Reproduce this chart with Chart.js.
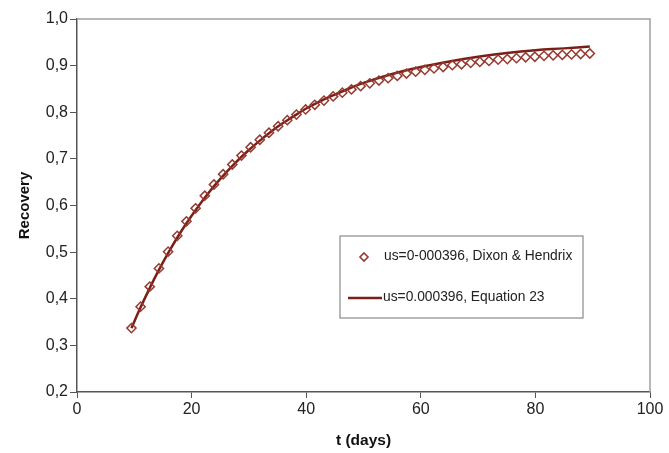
<!DOCTYPE html>
<html>
<head>
<meta charset="utf-8">
<script src="https://cdn.jsdelivr.net/npm/chart.js@4/dist/chart.umd.min.js"></script>
<style>
html,body{margin:0;padding:0;background:#fff;}
#wrap{width:669px;height:453px;}
</style>
</head>
<body>
<div id="wrap"><canvas id="c" width="669" height="453"></canvas></div>
<script>
// Dixon & Hendrix points (t in days, recovery)
const dixonT = [9.5, 11.1, 12.7, 14.3, 15.9, 17.5, 19.1, 20.7, 22.3, 23.9, 25.5, 27.1, 28.7, 30.3, 31.9, 33.5, 35.1, 36.7, 38.3, 39.9, 41.5, 43.1, 44.7, 46.3, 47.9, 49.5, 51.1, 52.7, 54.3, 55.9, 57.5, 59.1, 60.7, 62.3, 63.9, 65.5, 67.1, 68.7, 70.3, 71.9, 73.5, 75.1, 76.7, 78.3, 79.9, 81.5, 83.1, 84.7, 86.3, 87.9, 89.5];
const dixonR = [0.337, 0.383, 0.426, 0.465, 0.501, 0.535, 0.566, 0.594, 0.621, 0.645, 0.667, 0.688, 0.707, 0.725, 0.741, 0.756, 0.770, 0.783, 0.795, 0.806, 0.816, 0.825, 0.834, 0.842, 0.849, 0.856, 0.862, 0.868, 0.873, 0.878, 0.883, 0.887, 0.891, 0.894, 0.897, 0.901, 0.903, 0.906, 0.908, 0.910, 0.913, 0.914, 0.916, 0.918, 0.919, 0.921, 0.922, 0.923, 0.924, 0.925, 0.926];
// Equation 23 curve
const eqT = [9.5, 11, 12.5, 14, 16, 18, 20, 22.5, 25, 27.5, 30, 32.5, 35, 37.5, 40, 42.5, 45, 47.5, 50, 55, 60, 65, 70, 75, 80, 85, 89.5];
const eqR = [0.337, 0.379, 0.418, 0.455, 0.500, 0.541, 0.578, 0.620, 0.657, 0.690, 0.719, 0.745, 0.769, 0.789, 0.808, 0.824, 0.838, 0.851, 0.863, 0.882, 0.897, 0.909, 0.919, 0.927, 0.933, 0.937, 0.941];
const xTicks = [0, 20, 40, 60, 80, 100];
const yTicks = [0.2, 0.3, 0.4, 0.5, 0.6, 0.7, 0.8, 0.9, 1.0];
const seriesNames = ['us=0-000396, Dixon & Hendrix', 'us=0.000396, Equation 23'];

const lineColor = '#7a1f17';
const markerColor = '#963a30';
const FONT = '"Liberation Sans", Arial, sans-serif';

const frame = {
  id: 'frame',
  beforeDatasetsDraw(chart) {
    const {ctx, chartArea: a} = chart;
    ctx.save();
    ctx.strokeStyle = '#a0a0a0';
    ctx.lineWidth = 1.5;
    ctx.beginPath();
    ctx.moveTo(a.left, a.top); ctx.lineTo(a.right, a.top); ctx.lineTo(a.right, a.bottom);
    ctx.stroke();
    ctx.restore();
  },
  afterDraw(chart) {
    const {ctx} = chart;
    ctx.save();
    // legend box
    const bx = 340, by = 236, bw = 243, bh = 82;
    ctx.fillStyle = '#fff';
    ctx.fillRect(bx, by, bw, bh);
    ctx.strokeStyle = '#8a8a8a';
    ctx.lineWidth = 1.2;
    ctx.strokeRect(bx, by, bw, bh);
    // diamond
    const dx = 364, dy = 257, r = 4;
    ctx.strokeStyle = markerColor;
    ctx.lineWidth = 1.6;
    ctx.beginPath();
    ctx.moveTo(dx, dy - r); ctx.lineTo(dx + r, dy); ctx.lineTo(dx, dy + r); ctx.lineTo(dx - r, dy); ctx.closePath();
    ctx.stroke();
    // line
    ctx.strokeStyle = lineColor;
    ctx.lineWidth = 2.5;
    ctx.beginPath(); ctx.moveTo(348, 298); ctx.lineTo(382, 298); ctx.stroke();
    ctx.fillStyle = '#222';
    ctx.font = '13.8px ' + FONT;
    ctx.textBaseline = 'middle';
    ctx.textAlign = 'left';
    ctx.fillText(seriesNames[0], 384, 256);
    ctx.fillText(seriesNames[1], 383, 297);
    ctx.restore();
  }
};

new Chart(document.getElementById('c'), {
  type: 'scatter',
  data: {
    datasets: [
      {
        label: seriesNames[1],
        type: 'line',
        data: eqT.map((t, i) => ({x: t, y: eqR[i]})),
        borderColor: lineColor,
        borderWidth: 2.5,
        pointRadius: 0,
        tension: 0.4,
        fill: false,
        order: 2
      },
      {
        label: seriesNames[0],
        data: dixonT.map((t, i) => ({x: t, y: dixonR[i]})),
        pointStyle: 'rectRot',
        pointRadius: 4.6,
        pointBorderWidth: 1.5,
        pointBorderColor: markerColor,
        pointBackgroundColor: 'rgba(255,255,255,0)',
        showLine: false,
        order: 1
      }
    ]
  },
  plugins: [frame],
  options: {
    responsive: false,
    animation: false,
    layout: {padding: {left: 0, right: 19, top: 19, bottom: 0}},
    plugins: {legend: {display: false}, tooltip: {enabled: false}},
    scales: {
      x: {
        type: 'linear', min: 0, max: 100,
        afterBuildTicks: s => { s.ticks = xTicks.map(v => ({value: v})); },
        afterFit: s => { s.height = 61; },
        grid: {drawOnChartArea: false, drawTicks: true, tickLength: 6, color: '#555', lineWidth: 1},
        border: {color: '#555', width: 1.5},
        ticks: {color: '#222', font: {family: FONT, size: 16}, padding: 2},
        title: {display: true, text: 't (days)', color: '#111', font: {family: FONT, size: 15.5, weight: 'bold'}, padding: {top: 2, bottom: 3}}
      },
      y: {
        type: 'linear', min: 0.2, max: 1.0,
        afterBuildTicks: s => { s.ticks = yTicks.map(v => ({value: v})); },
        afterFit: s => { s.width = 77; },
        grid: {drawOnChartArea: false, drawTicks: true, tickLength: 7, color: '#555', lineWidth: 1},
        border: {color: '#555', width: 1.5},
        ticks: {color: '#222', font: {family: FONT, size: 16}, padding: 2,
          callback: v => v.toFixed(1).replace('.', ',')},
        title: {display: true, text: 'Recovery', color: '#111', font: {family: FONT, size: 15, weight: 'bold'}, padding: {top: 16, bottom: 4}}
      }
    }
  }
});
</script>
</body>
</html>
